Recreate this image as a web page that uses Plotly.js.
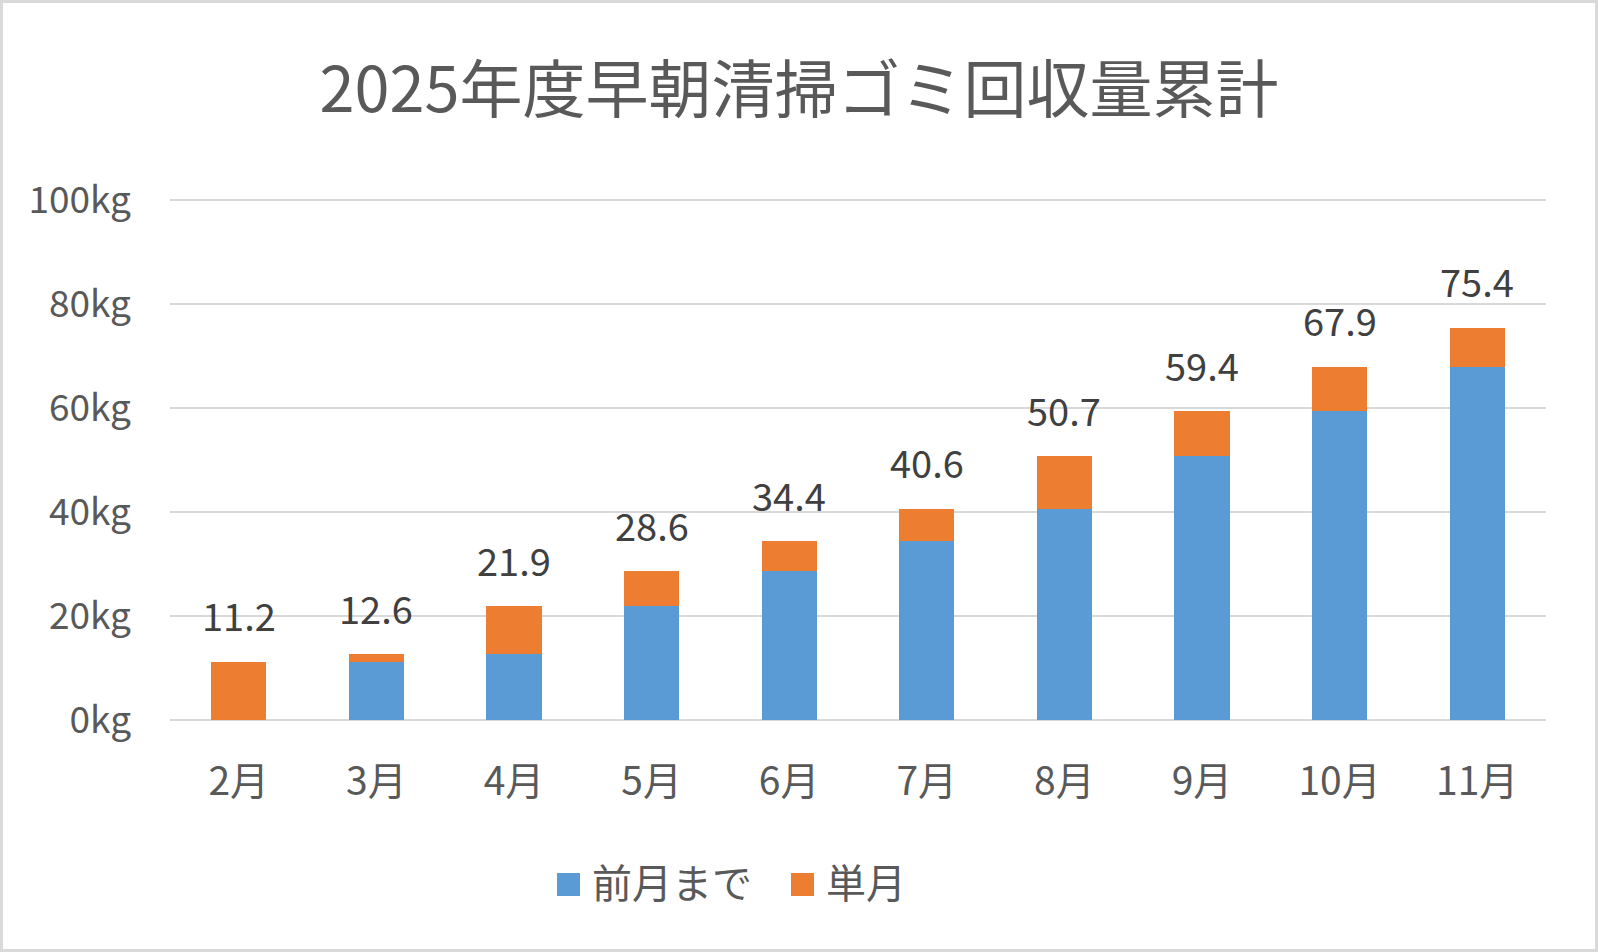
<!DOCTYPE html>
<html>
<head>
<meta charset="utf-8">
<script src="https://cdn.plot.ly/plotly-3.0.1.min.js"></script>
<style>
  html, body { margin: 0; padding: 0; background: #ffffff; }
  #wrap { position: relative; width: 1598px; height: 952px; }
  #chart { width: 1598px; height: 952px; }
  #frame { position: absolute; left: 0; top: 0; width: 1598px; height: 952px;
           box-sizing: border-box; border: 3px solid #d9d9d9; pointer-events: none; }
</style>
</head>
<body>
<div id="wrap">
  <div id="chart"></div>
  <div id="frame"></div>
</div>
<script>
const months = ['2月', '3月', '4月', '5月', '6月', '7月', '8月', '9月', '10月', '11月'];
const previousTotal = [0, 11.2, 12.6, 21.9, 28.6, 34.4, 40.6, 50.7, 59.4, 67.9];
const monthly = [11.2, 1.4, 9.3, 6.7, 5.8, 6.2, 10.1, 8.7, 8.5, 7.5];
const totals = [11.2, 12.6, 21.9, 28.6, 34.4, 40.6, 50.7, 59.4, 67.9, 75.4];
const yTickVals = [0, 20, 40, 60, 80, 100];
const yTickText = ['0kg', '20kg', '40kg', '60kg', '80kg', '100kg'];
const seriesNames = ['前月まで', '単月'];
const seriesColors = ['#5b9bd5', '#ed7d31'];
const titleText = '2025年度早朝清掃ゴミ回収量累計';

const FONT = '"Noto Sans CJK JP", "Noto Sans", sans-serif';

// plot-area geometry (pixels)
const W = 1598, H = 952;
const M = { l: 170, r: 52, t: 198, b: 232 };
const plotW = W - M.l - M.r, plotH = H - M.t - M.b;
const px2x = p => (p - M.l) / plotW;
const px2y = p => (H - M.b - p) / plotH;

const traces = [
  {
    type: 'bar', name: seriesNames[0], x: months, y: previousTotal,
    marker: { color: seriesColors[0] }, hoverinfo: 'skip'
  },
  {
    type: 'bar', name: seriesNames[1], x: months, y: monthly,
    marker: { color: seriesColors[1] }, hoverinfo: 'skip'
  }
];

const annotations = months.map((m, i) => ({
  x: m, y: totals[i], xref: 'x', yref: 'y',
  text: totals[i].toFixed(1), showarrow: false, borderpad: 0,
  yanchor: 'middle', xanchor: 'center', yshift: 47,
  font: { family: FONT, size: 38, color: '#404040' }
}));

// manual legend
const legendItems = [
  { box: [557, 580], textX: 591 },
  { box: [791, 814], textX: 825 }
];
const shapes = [];
legendItems.forEach((it, i) => {
  shapes.push({
    type: 'rect', xref: 'paper', yref: 'paper',
    x0: px2x(it.box[0]), x1: px2x(it.box[1]),
    y0: px2y(896), y1: px2y(873),
    fillcolor: seriesColors[i], line: { width: 0 }
  });
  annotations.push({
    xref: 'paper', yref: 'paper', x: px2x(it.textX), y: px2y(881),
    xanchor: 'left', yanchor: 'middle', showarrow: false, borderpad: 0,
    text: seriesNames[i],
    font: { family: FONT, size: 40, color: '#595959' }
  });
});

const layout = {
  width: W, height: H,
  paper_bgcolor: '#ffffff', plot_bgcolor: '#ffffff',
  margin: { l: M.l, r: M.r, t: M.t, b: M.b, pad: 0 },
  barmode: 'stack', bargap: 0.6,
  font: { family: FONT, color: '#595959', size: 39 },
  title: {
    text: titleText, xref: 'container', yref: 'container',
    x: 0.5, xanchor: 'center', y: 1 - 89.5 / H, yanchor: 'middle',
    font: { family: FONT, size: 63, color: '#595959' }
  },
  xaxis: {
    type: 'category', showgrid: false, zeroline: false, showline: false,
    ticks: '', ticklabelstandoff: 35,
    tickfont: { family: FONT, size: 39, color: '#595959' }
  },
  yaxis: {
    range: [0, plotH / 5.2], tickvals: yTickVals, ticktext: yTickText,
    showgrid: true, gridcolor: '#d9d9d9', gridwidth: 2,
    zeroline: true, zerolinecolor: '#d9d9d9', zerolinewidth: 2,
    showline: false, ticks: '', ticklabelstandoff: 38,
    tickfont: { family: FONT, size: 37, color: '#595959' }
  },
  showlegend: false,
  shapes: shapes,
  annotations: annotations
};

Plotly.newPlot('chart', traces, layout, { displayModeBar: false, staticPlot: true });
</script>
</body>
</html>
